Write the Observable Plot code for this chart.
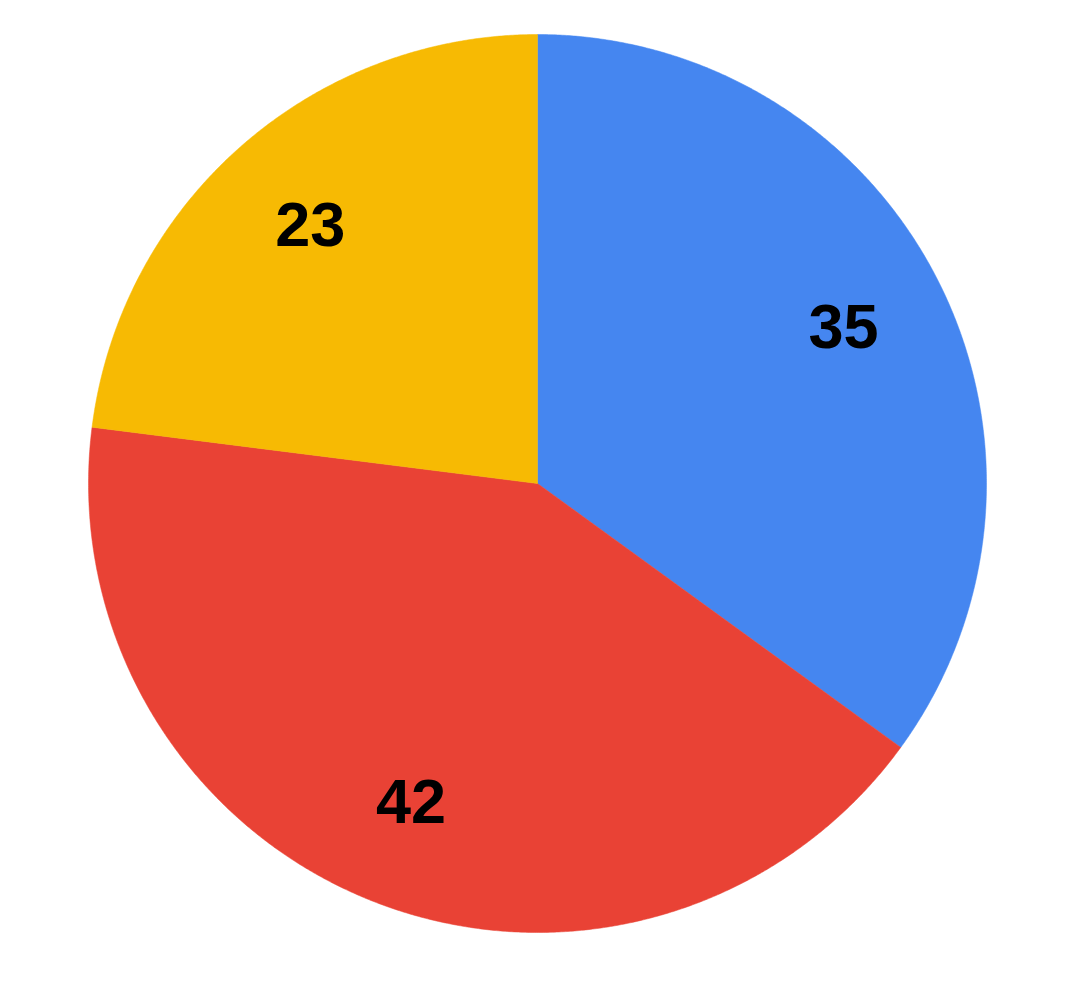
<!DOCTYPE html>
<html>
<head>
<meta charset="utf-8">
<script src="https://cdn.jsdelivr.net/npm/d3@7"></script>
<script src="https://cdn.jsdelivr.net/npm/@observablehq/plot@0.6"></script>
<style>
  html, body { margin: 0; padding: 0; background: #ffffff; }
  #chart svg { display: block; }
</style>
</head>
<body>
<div id="chart"></div>
<script>
const categories = ["A", "B", "C"];
const values = [35, 42, 23];
const colors = ["#4586F0", "#E94235", "#F7BA03"];

const table = categories.map((name, i) => ({ name, value: values[i] }));
const arcs = d3.pie().sort(null).value(d => d.value).startAngle(0).endAngle(2 * Math.PI)(table);

// Polygon outline of each slice (center + sampled arc), in unit-circle coordinates
const outline = [];
for (const a of arcs) {
  const n = Math.max(2, Math.ceil((a.endAngle - a.startAngle) / 0.005));
  outline.push({ name: a.data.name, x: 0, y: 0 });
  for (let k = 0; k <= n; k++) {
    const t = a.startAngle + (a.endAngle - a.startAngle) * k / n;
    outline.push({ name: a.data.name, x: Math.sin(t), y: Math.cos(t) });
  }
  outline.push({ name: a.data.name, x: 0, y: 0 });
}

const labelRadius = 0.765;
const labels = arcs.map(a => {
  const m = (a.startAngle + a.endAngle) / 2;
  return { name: a.data.name, value: a.data.value, x: labelRadius * Math.sin(m), y: labelRadius * Math.cos(m) };
});

const chart = Plot.plot({
  width: 1078,
  height: 992,
  margin: 0,
  x: { domain: [-1, 1], range: [88, 986], axis: null },
  y: { domain: [-1, 1], range: [932, 34], axis: null },
  color: { domain: categories, range: colors },
  marks: [
    Plot.line(outline, { x: "x", y: "y", z: "name", fill: "name", stroke: "name", strokeWidth: 0.5, curve: "linear" }),
    Plot.text(labels, {
      x: "x", y: "y", text: d => String(d.value),
      fill: "#000000", fontSize: 63, fontWeight: "bold",
      fontFamily: "Liberation Sans, Arial, sans-serif"
    })
  ]
});
document.getElementById("chart").appendChild(chart);
</script>
</body>
</html>
